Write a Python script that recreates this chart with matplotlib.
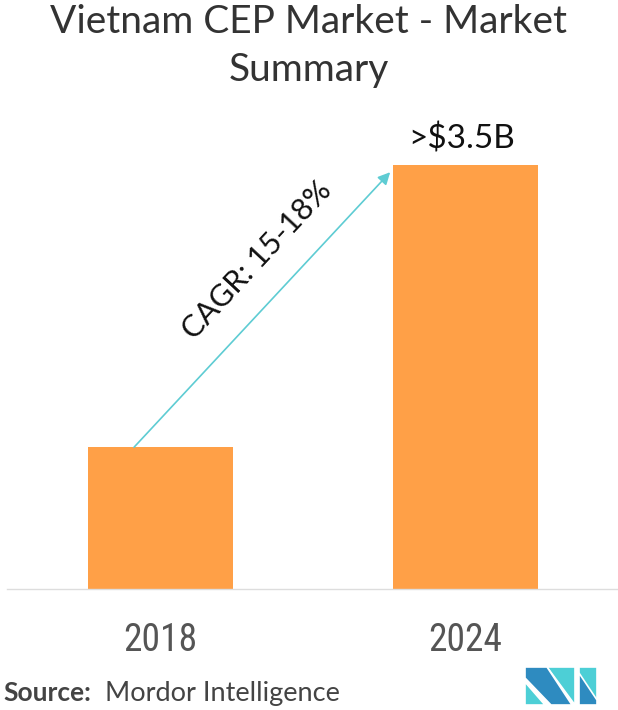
import matplotlib.pyplot as plt
from matplotlib.patches import Polygon

years = ["2018", "2024"]
values = [1.17, 3.5]  # USD billion, 2018
value_labels = ["", ">$3.5B"]
cagr_text = "CAGR: 15-18%"
title = "Vietnam CEP Market - Market\nSummary"

bar_color = "#FFA047"
arrow_color = "#5ECCD3"

plt.rcParams['font.family'] = ['Lato', 'DejaVu Sans']

fig = plt.figure(figsize=(6.18, 7.10), dpi=100)
ax = fig.add_axes([7 / 618, 1 - 589 / 710, 611 / 618, 489 / 710])

x = list(range(len(years)))
width = 0.476
bars = ax.bar(x, values, width=width, color=bar_color, zorder=2)

ax.set_xlim(-0.504, 1.502)
ax.set_ylim(0, 4.036)
ax.set_yticks([])
ax.set_xticks([])
for side in ["top", "right", "left"]:
    ax.spines[side].set_visible(False)
ax.spines["bottom"].set_color("#DDDDDD")
ax.spines["bottom"].set_linewidth(1)

# value labels above bars
for xi, v, lab in zip(x, values, value_labels):
    if lab:
        ax.text(xi - 0.01, v + 0.09, lab, ha="center", va="bottom", fontsize=24, color="#111111")

# year labels below axis
for xi, yr in zip(x, years):
    ax.text(xi, -0.27, yr, ha="center", va="top", fontsize=27, color="#555555",
            family=["Roboto Condensed", "Roboto", "DejaVu Sans"])

# CAGR arrow from first bar top to near the second bar top
ax.annotate("", xy=(x[1] - 0.246, values[1] - 0.06), xytext=(x[0] - 0.087, values[0]),
            arrowprops=dict(arrowstyle="-|>", color=arrow_color, lw=1.2,
                            mutation_scale=18, shrinkA=0, shrinkB=0), zorder=3)
ax.text(0.317, 2.71, cagr_text, rotation=47, ha="center", va="center",
        fontsize=22, color="#111111", rotation_mode="anchor")

fig.text(0.5, 1 - 46 / 710, title, ha="center", va="center", fontsize=28,
         color="#333333", linespacing=1.42)

fig.text(3 / 618, 1 - 693 / 710, "Source:", ha="left", va="center", fontsize=19,
         fontweight="bold", color="#444444")
fig.text(105 / 618, 1 - 693 / 710, "Mordor Intelligence", ha="left", va="center",
         fontsize=19.5, color="#444444")

# logo
def px(xp, yp):
    return (xp / 618, 1 - yp / 710)

dark = "#2E8BC0"
light = "#4DCFD6"
logo = [
    ([px(547, 667), px(575, 667), px(575, 705)], light),
    ([px(525, 667), px(547, 667), px(572, 705), px(551, 705), px(525, 678)], dark),
    ([px(525, 682), px(545, 705), px(525, 705)], light),
    ([px(579, 667), px(597, 667), px(597, 705), px(579, 705)], light),
    ([px(579, 673), px(597, 700), px(597, 705), px(579, 705)], dark),
]
for pts, col in logo:
    fig.patches.append(Polygon(pts, closed=True, facecolor=col, edgecolor="white",
                               linewidth=1.2, transform=fig.transFigure, figure=fig))

fig.savefig("out.png", dpi=100)
